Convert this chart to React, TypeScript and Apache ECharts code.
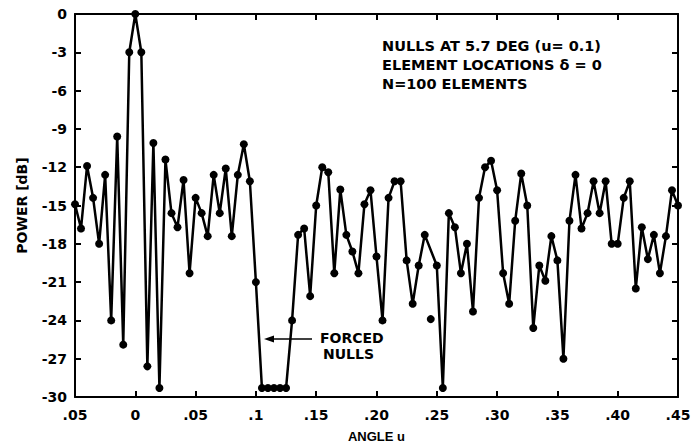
import React, { useEffect, useRef } from "react";
import * as echarts from "echarts";

// Sample positions (angle u) and power (dB)
const angleU = [
  -0.05, -0.045, -0.04, -0.035, -0.03, -0.025, -0.02, -0.015, -0.01, -0.005,
  0, 0.005, 0.01, 0.015, 0.02, 0.025, 0.03, 0.035, 0.04, 0.045,
  0.05, 0.055, 0.06, 0.065, 0.07, 0.075, 0.08, 0.085, 0.09, 0.095,
  0.1, 0.105, 0.11, 0.115, 0.12, 0.125, 0.13, 0.135, 0.14, 0.145,
  0.15, 0.155, 0.16, 0.165, 0.17, 0.175, 0.18, 0.185, 0.19, 0.195,
  0.2, 0.205, 0.21, 0.215, 0.22, 0.225, 0.23, 0.235, 0.24, 0.245,
  0.25, 0.255, 0.26, 0.265, 0.27, 0.275, 0.28, 0.285, 0.29, 0.295,
  0.3, 0.305, 0.31, 0.315, 0.32, 0.325, 0.33, 0.335, 0.34, 0.345,
  0.35, 0.355, 0.36, 0.365, 0.37, 0.375, 0.38, 0.385, 0.39, 0.395,
  0.4, 0.405, 0.41, 0.415, 0.42, 0.425, 0.43, 0.435, 0.44, 0.445,
  0.45,
];

// null = sample not joined to the line (plotted separately below)
const powerDb: (number | null)[] = [
  -14.9, -16.8, -11.9, -14.4, -18.0, -12.6, -24.0, -9.6, -25.9, -3.0,
  0, -3.0, -27.6, -10.1, -29.3, -11.4, -15.6, -16.7, -13.0, -20.3,
  -14.4, -15.6, -17.4, -12.6, -15.6, -12.1, -17.4, -12.6, -10.2, -13.1,
  -21.0, -29.3, -29.3, -29.3, -29.3, -29.3, -24.0, -17.3, -16.8, -22.1,
  -15.0, -12.0, -12.4, -20.3, -13.75, -17.3, -18.6, -20.3, -14.9, -13.8,
  -19.0, -24.0, -14.4, -13.1, -13.1, -19.3, -22.7, -19.7, -17.3, null,
  -19.7, -29.3, -15.6, -16.7, -20.3, -18.0, -23.3, -14.4, -12.0, -11.5,
  -13.8, -20.3, -22.7, -16.2, -12.5, -15.0, -24.6, -19.7, -20.9, -17.4,
  -19.3, -27.0, -16.2, -12.6, -16.8, -15.6, -13.1, -15.6, -13.1, -18.0,
  -18.0, -14.4, -13.1, -21.5, -16.7, -19.2, -17.3, -20.3, -17.4, -13.8,
  -15.0,
];

// Isolated sample at u = 0.245
const strayU = [0.245];
const strayDb = [-23.9];

const xTickLabels = [".05", "0", ".05", ".1", ".15", ".20", ".25", ".30", ".35", ".40", ".45"];
const yTicks = [0, -3, -6, -9, -12, -15, -18, -21, -24, -27, -30];

const noteLines = [
  "NULLS AT 5.7 DEG (u= 0.1)",
  "ELEMENT LOCATIONS \u03B4 = 0",
  "N=100 ELEMENTS",
];
const forcedLabel = ["FORCED", "NULLS"];

const FONT = "'DejaVu Sans', 'Liberation Sans', sans-serif";
const FONT2 = "'Liberation Sans', Arial, sans-serif";

export default function App() {
  const ref = useRef<HTMLDivElement>(null);

  useEffect(() => {
    if (!ref.current) return;
    const chart = echarts.init(ref.current, undefined, { renderer: "svg" });

    const lineData = angleU.map((u, i) => [u, powerDb[i] === null ? "-" : powerDb[i]]);
    const strayData = strayU.map((u, i) => [u, strayDb[i]]);

    const axisLine = { onZero: false, lineStyle: { color: "#000", width: 2 } };
    const axisTick = { inside: true, length: 6, lineStyle: { color: "#000", width: 2 } };
    const labelStyle = { color: "#000", fontSize: 14, fontWeight: "bold" as const, fontFamily: FONT };

    chart.setOption({
      animation: false,
      backgroundColor: "#fff",
      grid: { left: 75, right: 19, top: 14, bottom: 50, containLabel: false },
      xAxis: [
        {
          type: "value",
          position: "bottom",
          min: -0.05,
          max: 0.45,
          interval: 0.05,
          axisLine,
          axisTick,
          splitLine: { show: false },
          axisLabel: {
            ...labelStyle,
            margin: 11,
            formatter: (v: number) => xTickLabels[Math.round((v + 0.05) / 0.05)] ?? "",
          },
          name: "ANGLE u",
          nameLocation: "middle",
          nameGap: 33,
          nameTextStyle: { color: "#000", fontSize: 13, fontWeight: "bold", fontFamily: FONT2 },
        },
        {
          type: "value",
          position: "top",
          min: -0.05,
          max: 0.45,
          interval: 0.05,
          axisLine,
          axisTick,
          splitLine: { show: false },
          axisLabel: { show: false },
        },
      ],
      yAxis: [
        {
          type: "value",
          position: "left",
          min: -30,
          max: 0,
          interval: 3,
          axisLine,
          axisTick,
          splitLine: { show: false },
          axisLabel: {
            ...labelStyle,
            margin: 8,
            formatter: (v: number) => {
              const t = yTicks.find((k) => Math.abs(k - v) < 1e-6);
              return t === undefined ? "" : String(t);
            },
          },
          name: "POWER [dB]",
          nameLocation: "middle",
          nameRotate: 90,
          nameGap: 46,
          nameTextStyle: { color: "#000", fontSize: 14, fontWeight: "bold", fontFamily: FONT },
        },
        {
          type: "value",
          position: "right",
          min: -30,
          max: 0,
          interval: 3,
          axisLine,
          axisTick,
          splitLine: { show: false },
          axisLabel: { show: false },
        },
      ],
      series: [
        {
          type: "line",
          data: lineData,
          connectNulls: true,
          symbol: "circle",
          symbolSize: 8,
          showSymbol: true,
          lineStyle: { color: "#000", width: 2.5 },
          itemStyle: { color: "#000", opacity: 1 },
          silent: true,
        },
        {
          type: "scatter",
          data: strayData,
          symbol: "circle",
          symbolSize: 8,
          itemStyle: { color: "#000", opacity: 1 },
          silent: true,
        },
      ],
      graphic: [
        ...noteLines.map((t, i) => ({
          type: "text",
          left: 382,
          top: 38 + i * 19,
          style: { text: t, fill: "#000", font: `bold 14.5px ${FONT}` },
        })),
        ...forcedLabel.map((t, i) => ({
          type: "text",
          left: i === 0 ? 320 : 323,
          top: 331 + i * 16,
          style: { text: t, fill: "#000", font: `bold 14px ${FONT}` },
        })),
        {
          type: "line",
          shape: { x1: 312, y1: 339, x2: 270, y2: 339 },
          style: { stroke: "#000", lineWidth: 1.5 },
        },
        {
          type: "polygon",
          shape: { points: [[264, 339], [274, 335.5], [274, 342.5]] },
          style: { fill: "#000" },
        },
      ],
    });

    return () => chart.dispose();
  }, []);

  return (
    <div
      ref={ref}
      style={{ position: "fixed", left: 0, top: 0, width: 697, height: 448, background: "#fff" }}
    />
  );
}
